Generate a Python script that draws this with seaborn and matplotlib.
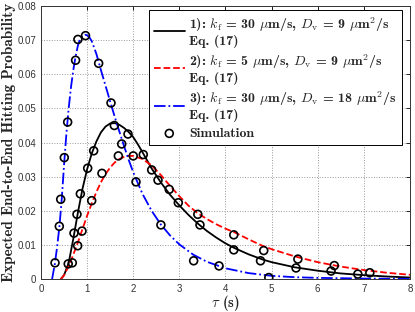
import numpy as np
import pandas as pd
import matplotlib
matplotlib.use("Agg")
import matplotlib.pyplot as plt
import seaborn as sns

# analytical curves (Eq. 17)
t1 = [0.43, 0.5, 0.6, 0.7, 0.8, 0.9, 1.0, 1.1, 1.2, 1.3, 1.4, 1.5, 1.6, 1.7, 1.8, 1.9, 2.0, 2.1, 2.2,
      2.4, 2.6, 2.8, 3.0, 3.2, 3.4, 3.6, 3.8, 4.0, 4.2, 4.5, 4.8, 5.0, 5.5, 6.0, 6.5, 7.0, 7.5, 8.0]
p1 = [0, 0.0012, 0.0048, 0.0118, 0.0195, 0.0265, 0.0322, 0.0368, 0.0403, 0.0430, 0.0447, 0.0456, 0.0457,
      0.0452, 0.0443, 0.0431, 0.0416, 0.0395, 0.0372, 0.0324, 0.0283, 0.0247, 0.0216, 0.0188, 0.0163,
      0.0141, 0.0122, 0.0105, 0.0091, 0.0073, 0.0058, 0.0050, 0.0035, 0.0025, 0.0017, 0.0012, 0.0008, 0.0005]

t2 = [0.43, 0.5, 0.6, 0.7, 0.8, 0.9, 1.0, 1.1, 1.2, 1.3, 1.4, 1.5, 1.6, 1.7, 1.8, 1.9, 2.0, 2.2, 2.4,
      2.6, 2.8, 3.0, 3.2, 3.4, 3.6, 3.8, 4.0, 4.2, 4.5, 4.8, 5.0, 5.5, 6.0, 6.5, 7.0, 7.5, 8.0]
p2 = [0, 0.0012, 0.0038, 0.0072, 0.0108, 0.0147, 0.0186, 0.0222, 0.0255, 0.0284, 0.0308, 0.0327, 0.0342,
      0.0352, 0.0358, 0.0361, 0.0361, 0.0352, 0.0333, 0.0305, 0.0273, 0.0243, 0.0215, 0.0193, 0.0176,
      0.0161, 0.0148, 0.0137, 0.0117, 0.0098, 0.0088, 0.0067, 0.0050, 0.0037, 0.0027, 0.0019, 0.0013]

t3 = [0.24, 0.3, 0.35, 0.4, 0.45, 0.5, 0.55, 0.6, 0.65, 0.7, 0.75, 0.8, 0.85, 0.9, 0.95, 1.0, 1.05, 1.1,
      1.2, 1.3, 1.4, 1.5, 1.6, 1.7, 1.8, 1.9, 2.0, 2.2, 2.4, 2.6, 2.8, 3.0, 3.3, 3.6, 4.0, 4.5, 5.0, 5.5,
      6.0, 7.0, 8.0]
p3 = [0, 0.0045, 0.0095, 0.0155, 0.0235, 0.0335, 0.0425, 0.0500, 0.0562, 0.0612, 0.0652, 0.0684, 0.0704,
      0.0713, 0.0716, 0.0714, 0.0708, 0.0697, 0.0660, 0.0612, 0.0566, 0.0520, 0.0475, 0.0432, 0.0390,
      0.0350, 0.0313, 0.0250, 0.0200, 0.0160, 0.0128, 0.0102, 0.0072, 0.0051, 0.0032, 0.0018, 0.0010,
      0.0006, 0.0004, 0.0002, 0.0001]

# simulation points
s1_t = [0.59, 0.715, 0.78, 0.853, 1.012, 1.142, 1.59, 1.886, 2.218, 2.40, 2.537, 2.977, 3.447, 4.18,
        4.76, 5.53, 6.29, 6.87]
s1_p = [0.0045, 0.0135, 0.0190, 0.0250, 0.0325, 0.0376, 0.0450, 0.0425, 0.0365, 0.0320, 0.0290, 0.0224,
        0.0159, 0.0086, 0.0054, 0.0033, 0.0024, 0.0015]
s2_t = [0.679, 0.795, 0.889, 1.099, 1.322, 1.677, 2.00, 2.78, 3.40, 4.18, 4.83, 5.57, 6.36, 7.13]
s2_p = [0.0048, 0.0098, 0.0141, 0.0230, 0.0310, 0.0361, 0.0361, 0.0263, 0.0190, 0.0130, 0.0084, 0.0059,
        0.0040, 0.0019]
s3_t = [0.304, 0.397, 0.427, 0.505, 0.578, 0.75, 0.80, 0.965, 1.25, 1.518, 1.75, 2.06, 2.60, 3.31,
        3.86, 4.94]
s3_p = [0.0048, 0.0155, 0.0234, 0.0356, 0.0460, 0.0641, 0.0702, 0.0713, 0.0632, 0.0516, 0.0396, 0.0285,
        0.0159, 0.0054, 0.0039, 0.0005]

labels = [
    "1): $k_\\mathrm{f}$ = 30 $\\mu$m/s, $D_\\mathrm{v}$ = 9 $\\mu$m$^2$/s\nEq. (17)",
    "2): $k_\\mathrm{f}$ = 5 $\\mu$m/s, $D_\\mathrm{v}$ = 9 $\\mu$m$^2$/s\nEq. (17)",
    "3): $k_\\mathrm{f}$ = 30 $\\mu$m/s, $D_\\mathrm{v}$ = 18 $\\mu$m$^2$/s\nEq. (17)",
    "Simulation",
]

sns.set_style("white")
plt.rcParams["mathtext.fontset"] = "cm"
plt.rcParams["font.family"] = ["Liberation Sans", "DejaVu Sans"]

fig = plt.figure(figsize=(4.15, 3.12), dpi=100)
ax = fig.add_axes([0.0988, 0.105, 0.889, 0.876])

curves = [(t1, p1, "black", "-"), (t2, p2, "red", "--"), (t3, p3, "blue", "-.")]
for (t, p, c, ls), lab in zip(curves, labels):
    d = pd.DataFrame({"t": t, "p": p})
    sns.lineplot(data=d, x="t", y="p", color=c, linestyle=ls, linewidth=1.3, ax=ax, label=lab)

sims = pd.DataFrame({
    "t": s1_t + s2_t + s3_t,
    "p": s1_p + s2_p + s3_p,
})
sns.scatterplot(data=sims, x="t", y="p", marker="o", s=32, facecolors="none", edgecolor="black",
                linewidth=1.2, ax=ax, label=labels[3], zorder=5)

ax.set_xlim(0, 8)
ax.set_ylim(0, 0.08)
ax.set_xticks(range(0, 9))
ax.set_yticks(np.arange(0, 0.081, 0.01))
ax.set_yticklabels(["0"] + [f"{v:.2f}" for v in np.arange(0.01, 0.081, 0.01)])
ax.tick_params(direction="in", top=True, right=True, length=3, width=0.6, labelsize=7,
               colors="black", labelcolor="#333333")
ax.grid(True, linestyle=":", color="#999999", linewidth=0.7)
for sp in ax.spines.values():
    sp.set_color("#333333")
    sp.set_linewidth(0.7)

ax.set_xlabel("$\\tau$ (s)", fontfamily="cmb10", fontsize=10.5, labelpad=-1)
ax.set_ylabel("Expected End-to-End Hitting Probability", fontfamily="cmb10", fontsize=11, labelpad=1)

leg = ax.legend(loc="upper right", bbox_to_anchor=(0.978, 0.985), borderaxespad=0, frameon=True,
                fancybox=False, edgecolor="black", framealpha=1, handlelength=2.2, handletextpad=0.35,
                borderpad=0.35, labelspacing=0.35, prop={"family": "cmb10", "size": 10})
leg.get_frame().set_linewidth(0.7)
for txt in leg.get_texts():
    txt.set_linespacing(1.1)

fig.savefig("out.png", dpi=100)
